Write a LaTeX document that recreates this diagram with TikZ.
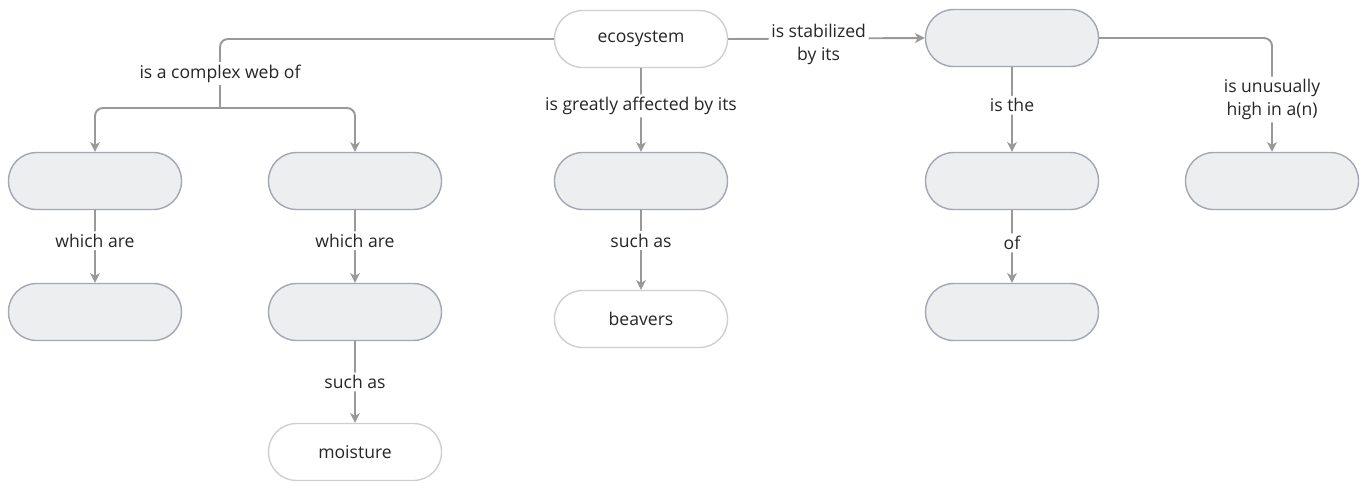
\documentclass[tikz,border=0pt]{standalone}
\usepackage{fontspec}
\setmainfont{Open Sans}
\usetikzlibrary{arrows.meta}

\definecolor{linegray}{HTML}{999999}
\definecolor{boxline}{HTML}{A3A7B3}
\definecolor{boxfill}{HTML}{ECEEF0}
\definecolor{openline}{HTML}{CFCFCF}
\definecolor{txt}{HTML}{262626}

\tikzset{
	concept/.style={draw=boxline, fill=boxfill, line width=0.8pt, rounded corners=0.56cm,
		minimum width=3.46cm, minimum height=1.14cm, text=txt, font=\fontsize{10}{12}\selectfont},
	filled/.style={concept, draw=openline, fill=white},
	conn/.style={draw=linegray, line width=1.1pt, rounded corners=0.16cm},
	arr/.style={conn, -{Stealth[length=5.5pt, width=5.5pt, inset=1.5pt]}},
	lbl/.style={fill=white, text=txt, inner sep=1.5pt, align=center, font=\fontsize{10}{13}\selectfont}
}

\begin{document}
\begin{tikzpicture}[x=0.02cm, y=-0.02cm]
	\useasboundingbox (0,0) rectangle (1364,487);

	\node[filled] (eco) at (641,39) {ecosystem};
	\node[concept] (stab) at (1012,38) {};

	\node[concept] (webA) at (95,181) {};
	\node[concept] (webB) at (355,181) {};
	\node[concept] (affect) at (641,181) {};
	\node[concept] (role) at (1012,181) {};
	\node[concept] (high) at (1272,181) {};

	\node[concept] (webA2) at (95,312) {};
	\node[concept] (webB2) at (355,312) {};
	\node[filled] (beavers) at (641,319) {beavers};
	\node[concept] (role2) at (1012,312) {};

	\node[filled] (moist) at (355,452) {moisture};

	\coordinate (web) at (220,108);

	\draw[conn] (eco.west) -| node[lbl, pos=0.75] {is a complex web of} (web);
	\draw[arr] (web) -| (webA.north);
	\draw[arr] (web) -| (webB.north);

	\draw[arr] (eco) -- node[lbl, pos=0.45] {is greatly affected by its} (affect);
	\draw[arr] (eco.east) -- node[lbl, pos=0.46, yshift=-0.12cm] {is stabilized\\by its} (stab.west);

	\draw[arr] (stab) -- node[lbl, pos=0.45] {is the} (role);
	\draw[arr] (stab.east) -| node[lbl, pos=0.77] {is unusually\\high in a(n)} (high.north);

	\draw[arr] (webA) -- node[lbl, pos=0.42] {which are} (webA2);
	\draw[arr] (webB) -- node[lbl, pos=0.42] {which are} (webB2);
	\draw[arr] (affect) -- node[lbl, pos=0.38] {such as} (beavers);
	\draw[arr] (role) -- node[lbl, pos=0.45] {of} (role2);
	\draw[arr] (webB2) -- node[lbl] {such as} (moist);
\end{tikzpicture}
\end{document}
